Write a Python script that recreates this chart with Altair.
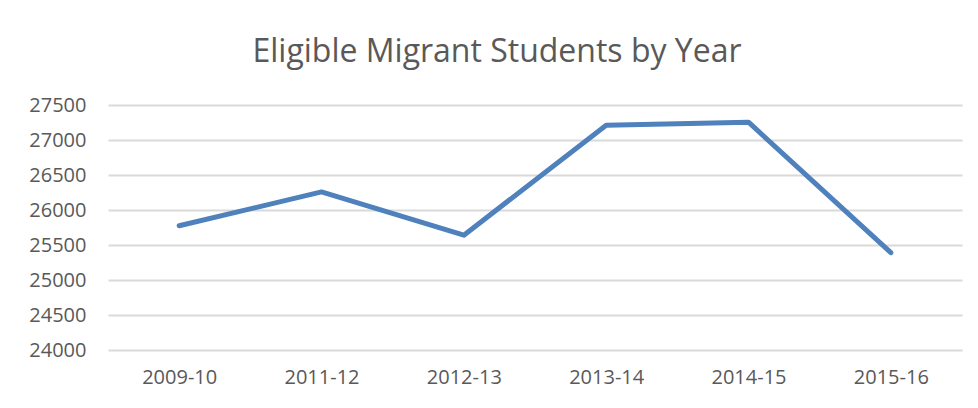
import altair as alt
import pandas as pd

years = ["2009-10", "2011-12", "2012-13", "2013-14", "2014-15", "2015-16"]
students = [25775, 26258, 25640, 27212, 27255, 25390]

df = pd.DataFrame({"year": years, "students": students})

chart = alt.Chart(df).mark_line(color="#4f81bd", strokeWidth=5, strokeCap="round", strokeJoin="round").encode(
    x=alt.X("year:O", sort=years, title=None,
            scale=alt.Scale(type="point", padding=0.5),
            axis=alt.Axis(labelAngle=0, ticks=False, domain=False, grid=False,
                          labelFont="Open Sans", labelFontSize=20, labelColor="#595959",
                          labelPadding=17)),
    y=alt.Y("students:Q", title=None,
            scale=alt.Scale(domain=[24000, 27500], nice=False, zero=False),
            axis=alt.Axis(values=[24000, 24500, 25000, 25500, 26000, 26500, 27000, 27500],
                          format="d", ticks=False, domain=False, gridColor="#d9d9d9", gridWidth=2,
                          labelFont="Open Sans", labelFontSize=20, labelColor="#595959",
                          labelPadding=22)),
).properties(
    width=854, height=245,
    title=alt.TitleParams("Eligible Migrant Students by Year", font="Open Sans", fontSize=32,
                          fontWeight="normal", color="#595959", anchor="middle", dx=-38, offset=26),
    autosize=alt.AutoSizeParams(type="none"),
    padding={"left": 100, "top": 97, "right": 8, "bottom": 50},
).configure_view(stroke=None)

chart.save("out.html", embed_options={"renderer": "svg", "actions": False})
